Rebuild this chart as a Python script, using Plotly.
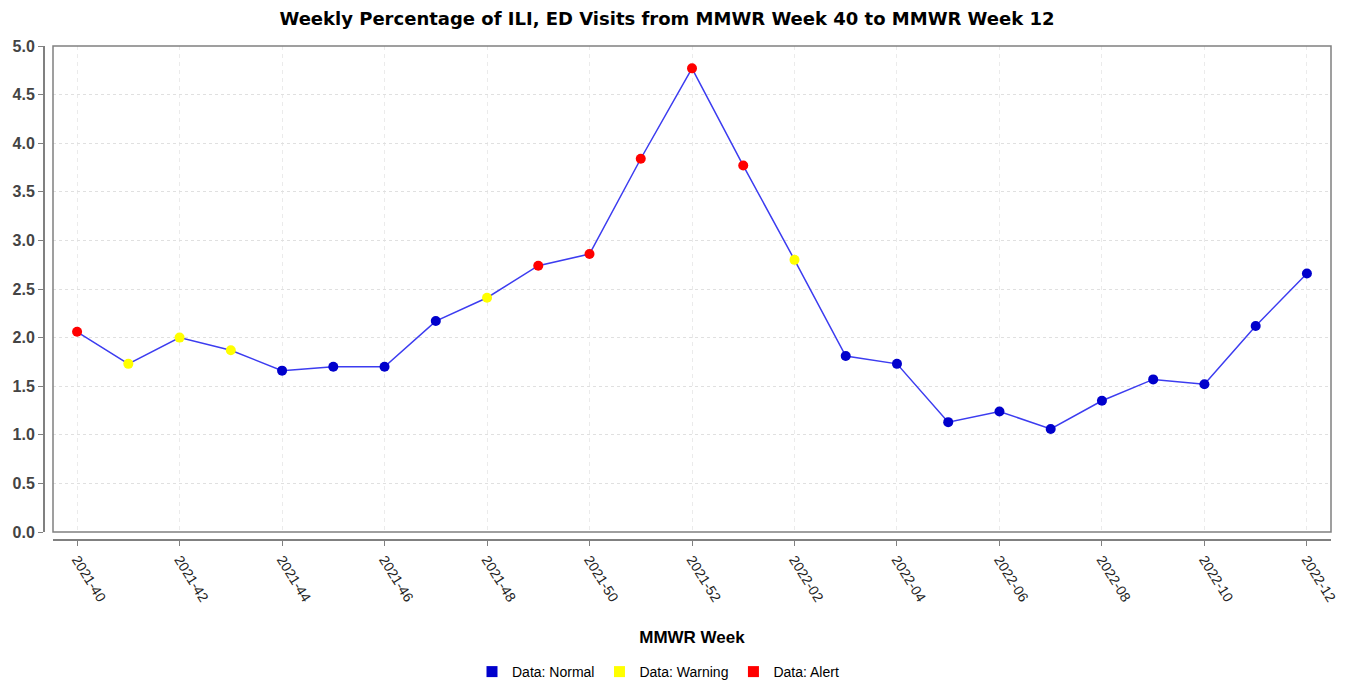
import plotly.graph_objects as go

weeks = ["2021-40", "2021-41", "2021-42", "2021-43", "2021-44", "2021-45", "2021-46",
         "2021-47", "2021-48", "2021-49", "2021-50", "2021-51", "2021-52",
         "2022-01", "2022-02", "2022-03", "2022-04", "2022-05", "2022-06", "2022-07",
         "2022-08", "2022-09", "2022-10", "2022-11", "2022-12"]
ili_pct = [2.06, 1.73, 2.00, 1.87, 1.66, 1.70, 1.70, 2.17, 2.41, 2.74, 2.86, 3.84, 4.77,
           3.77, 2.80, 1.81, 1.73, 1.13, 1.24, 1.06, 1.35, 1.57, 1.52, 2.12, 2.66]
status = ["Alert", "Warning", "Warning", "Warning", "Normal", "Normal", "Normal",
          "Normal", "Warning", "Alert", "Alert", "Alert", "Alert",
          "Alert", "Warning", "Normal", "Normal", "Normal", "Normal", "Normal",
          "Normal", "Normal", "Normal", "Normal", "Normal"]
status_order = ["Normal", "Warning", "Alert"]
status_colors = {"Normal": "#0000cc", "Warning": "#ffff00", "Alert": "#ff0000"}
tick_labels = weeks[::2]
y_ticks = [0.0, 0.5, 1.0, 1.5, 2.0, 2.5, 3.0, 3.5, 4.0, 4.5, 5.0]

fig = go.Figure()
fig.add_trace(go.Scatter(
    x=weeks, y=ili_pct, mode="lines+markers",
    line=dict(color="#3c3cf0", width=1.5),
    marker=dict(size=10, color=[status_colors[s] for s in status], line=dict(width=0)),
    showlegend=False,
))
for s in status_order:
    fig.add_trace(go.Scatter(
        x=[None], y=[None], mode="markers", name="Data: " + s,
        marker=dict(symbol="square", size=11, color=status_colors[s]),
    ))

# page has an 8px body margin; figure sized to fit inside the window
W, H = 1337, 677
ml, mr, mt, mb = 36, 14, 38, 145
pw = W - ml - mr
ph = H - mt - mb
dx = 9 / pw
dy = 8 / ph

fig.update_layout(
    width=W, height=H,
    margin=dict(l=ml, r=mr, t=mt, b=mb, autoexpand=False),
    paper_bgcolor="white", plot_bgcolor="white",
    title=dict(text="Weekly Percentage of ILI, ED Visits from MMWR Week 40 to MMWR Week 12",
               x=659 / W, xanchor="center", y=1 - 11 / H, yanchor="middle",
               font=dict(family="DejaVu Sans, Tahoma, sans-serif", size=18, color="#000000", weight="bold")),
    xaxis=dict(
        type="category", categoryorder="array", categoryarray=weeks,
        range=[-0.47, len(weeks) - 1 + 0.47],
        domain=[dx, 1], anchor="free", position=0,
        tickmode="array", tickvals=tick_labels, ticktext=tick_labels,
        tickangle=58, ticks="outside", ticklen=5, tickcolor="#808080", tickwidth=1,
        showline=True, linecolor="#808080", linewidth=2,
        showgrid=True, gridcolor="#ebebeb", griddash="4px,4px", gridwidth=1,
        zeroline=False,
        tickfont=dict(family="Liberation Sans, Arial, sans-serif", size=14, color="#222222"),
        title=dict(text="MMWR Week", standoff=26,
                   font=dict(family="Liberation Sans, Arial, sans-serif", size=17, color="#000000", weight="bold")),
    ),
    yaxis=dict(
        range=[0, 5], domain=[dy, 1], anchor="free", position=0,
        tickmode="array", tickvals=y_ticks, ticktext=[f"{v:.1f}" for v in y_ticks],
        ticks="outside", ticklen=5, tickcolor="#808080", tickwidth=1,
        showline=True, linecolor="#808080", linewidth=2,
        showgrid=True, gridcolor="#e0e0e0", griddash="dot", gridwidth=1,
        zeroline=False,
        tickfont=dict(family="Liberation Sans Narrow, Arial Narrow, Liberation Sans, sans-serif", size=16,
                      color="#444444", weight="bold"),
    ),
    legend=dict(orientation="h", x=614 / pw, xanchor="center", y=(H - 664 - mb) / ph, yanchor="middle",
                font=dict(family="Liberation Sans, Arial, sans-serif", size=14, color="#000000"),
                itemwidth=30, tracegroupgap=0),
)
fig.add_shape(type="rect", xref="x domain", yref="y domain", x0=0, x1=1, y0=0, y1=1,
              line=dict(color="#808080", width=1.5), layer="above")

fig.write_html("out.html")
